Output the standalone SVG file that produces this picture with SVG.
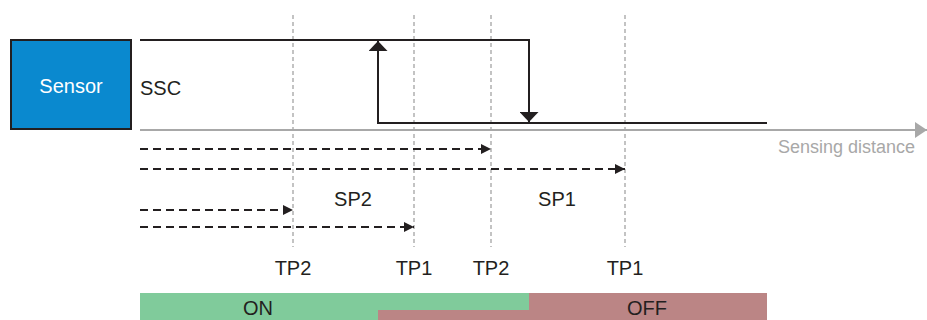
<svg xmlns="http://www.w3.org/2000/svg" width="927" height="320" viewBox="0 0 927 320">
<style>
.t{font-family:"Liberation Sans",Arial,sans-serif;fill:#231f20}
.grid{stroke:#b0b0b0;stroke-width:1.5;stroke-dasharray:4 3;fill:none}
.dash{stroke:#231f20;stroke-width:2;stroke-dasharray:8 5;fill:none}
.solid{stroke:#231f20;stroke-width:2;fill:none}
</style>
<defs>
<marker id="sm" viewBox="0 0 10 10" refX="10" refY="5" markerWidth="10" markerHeight="10" markerUnits="userSpaceOnUse" orient="auto"><path d="M0,0 L10,5 L0,10 Z" fill="#231f20"/></marker>
<marker id="big" viewBox="0 0 10 10" refX="10" refY="5" markerWidth="10" markerHeight="19" markerUnits="userSpaceOnUse" orient="auto" preserveAspectRatio="none"><path d="M0,0 L10,5 L0,10 Z" fill="#231f20"/></marker>
<marker id="gray" viewBox="0 0 10 10" refX="10" refY="5" markerWidth="12" markerHeight="16" markerUnits="userSpaceOnUse" orient="auto" preserveAspectRatio="none"><path d="M0,0 L10,5 L0,10 Z" fill="#a8a8a8"/></marker>
</defs>

<g id="grid-lines">
<line class="grid" x1="293" y1="15" x2="293" y2="247"/>
<line class="grid" x1="414" y1="15" x2="414" y2="247"/>
<line class="grid" x1="491" y1="15" x2="491" y2="247"/>
<line class="grid" x1="625" y1="15" x2="625" y2="247"/>
</g>

<g id="sensor">
<rect x="11" y="40" width="120" height="89" fill="#0a89cf" stroke="#231f20" stroke-width="2"/>
<text class="t" x="71" y="93" font-size="20" text-anchor="middle" style="fill:#fff">Sensor</text>
</g>

<g id="ssc-label"><text class="t" x="140" y="95" font-size="20">SSC</text></g>

<g id="axis">
<line x1="140" y1="130" x2="927" y2="130" stroke="#a8a8a8" stroke-width="2" marker-end="url(#gray)"/>
<text x="915" y="153" font-size="18" text-anchor="end" font-family="Liberation Sans,Arial,sans-serif" fill="#a8a8a8">Sensing distance</text>
</g>

<g id="connectors">
<polyline class="solid" points="140,40 529,40 529,122" marker-end="url(#big)"/>
<polyline class="solid" points="767,123 378,123 378,41" marker-end="url(#big)"/>
<line class="dash" x1="140" y1="149" x2="491" y2="149" marker-end="url(#sm)"/>
<line class="dash" x1="140" y1="169" x2="625" y2="169" marker-end="url(#sm)"/>
<line class="dash" x1="140" y1="210" x2="293" y2="210" marker-end="url(#sm)"/>
<line class="dash" x1="140" y1="227" x2="414" y2="227" marker-end="url(#sm)"/>
</g>

<g id="labels">
<text class="t" x="353" y="206" font-size="20" text-anchor="middle">SP2</text>
<text class="t" x="557" y="206" font-size="20" text-anchor="middle">SP1</text>
<text class="t" x="293" y="275" font-size="20" text-anchor="middle">TP2</text>
<text class="t" x="414" y="275" font-size="20" text-anchor="middle">TP1</text>
<text class="t" x="491" y="275" font-size="20" text-anchor="middle">TP2</text>
<text class="t" x="625" y="275" font-size="20" text-anchor="middle">TP1</text>
</g>

<g id="on-bar">
<polygon points="140,293 529,293 529,310 378,310 378,320 140,320" fill="#80cb9b"/>
<text class="t" x="258" y="315" font-size="20" text-anchor="middle">ON</text>
</g>
<g id="off-bar">
<polygon points="529,293 767,293 767,320 378,320 378,310 529,310" fill="#bb8585"/>
<text class="t" x="647" y="315" font-size="20" text-anchor="middle">OFF</text>
</g>
</svg>
